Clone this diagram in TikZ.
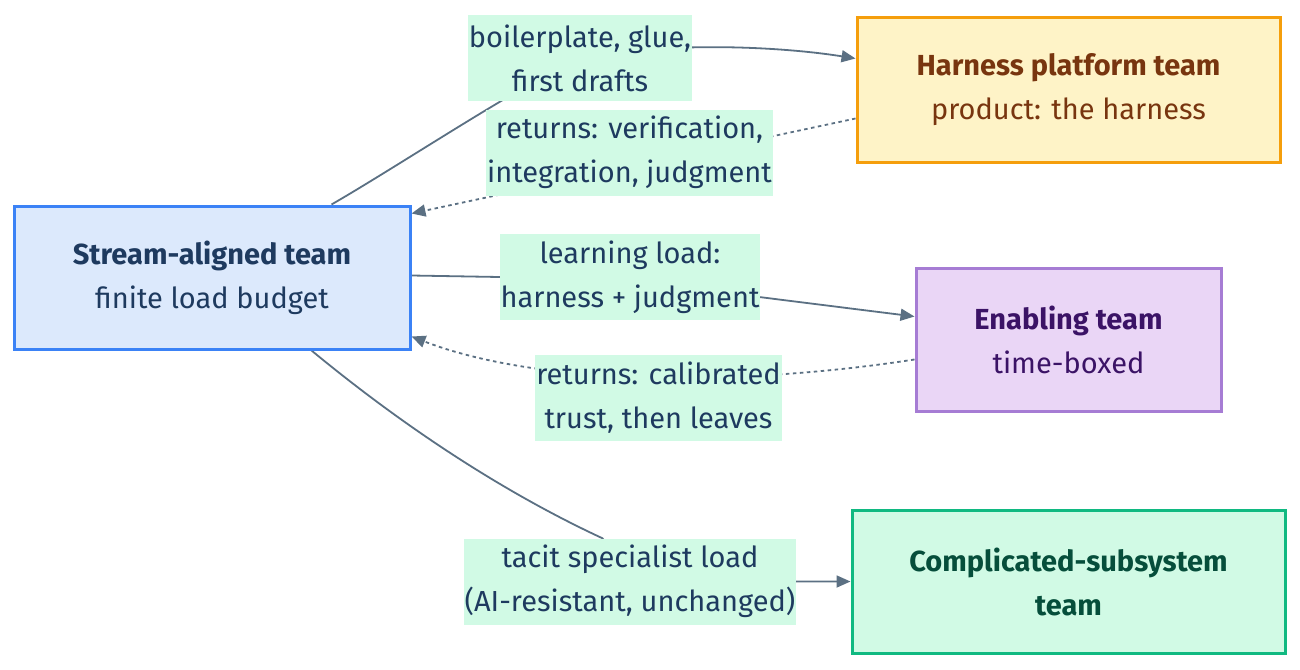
\documentclass[tikz,border=0pt]{standalone}
\usepackage{fontspec}
\setmainfont{Fira Sans}
\usetikzlibrary{arrows.meta,calc}
\definecolor{edgec}{HTML}{5B7083}
\definecolor{sfill}{HTML}{DCE9FC}
\definecolor{sdraw}{HTML}{3B82F6}
\definecolor{stext}{HTML}{1E3A5F}
\definecolor{hfill}{HTML}{FEF3C7}
\definecolor{hdraw}{HTML}{F59E0B}
\definecolor{htext}{HTML}{78350F}
\definecolor{efill}{HTML}{EAD6F6}
\definecolor{edraw}{HTML}{A67CD4}
\definecolor{etext}{HTML}{3B1366}
\definecolor{cfill}{HTML}{D1FAE5}
\definecolor{cdraw}{HTML}{10B981}
\definecolor{ctext}{HTML}{064E3B}
\definecolor{lfill}{HTML}{D1FAE5}
\definecolor{ltext}{HTML}{1E3A5F}
\pgfdeclarelayer{bg}
\pgfsetlayers{bg,main}
\tikzset{
  teambox/.style={rectangle, line width=3pt, align=center, inner sep=0pt,
    font=\fontsize{29}{44}\selectfont},
  elabel/.style={rectangle, fill=lfill, text=ltext, align=center, inner xsep=1pt, inner ysep=0pt,
    minimum height=86pt, font=\fontsize{29}{44}\selectfont},
  edge/.style={draw=edgec, line width=1.8pt, -{Triangle[length=14pt,width=12pt]}},
  dotedge/.style={edge, dash pattern=on 3.5pt off 3.5pt}
}
\begin{document}
\begin{tikzpicture}[x=1pt,y=-1pt]
\useasboundingbox (0,0) rectangle (1300,669);

\node[teambox, fill=sfill, draw=sdraw, text=stext, minimum width=396pt, minimum height=143pt] (s) at (212,277.5)
  {\textbf{Stream-aligned team}\\finite load budget};
\node[teambox, fill=hfill, draw=hdraw, text=htext, minimum width=423pt, minimum height=144pt] (h) at (1068.5,90)
  {\textbf{Harness platform team}\\product: the harness};
\node[teambox, fill=efill, draw=edraw, text=etext, minimum width=305pt, minimum height=143pt] (en) at (1068.5,339.5)
  {\textbf{Enabling team}\\time-boxed};
\node[teambox, fill=cfill, draw=cdraw, text=ctext, minimum width=433pt, minimum height=143pt] (c) at (1068.5,581.5)
  {\textbf{Complicated-subsystem}\\\textbf{team}};

\node[elabel] (l1) at (580,58) {boilerplate, glue,\\first drafts};
\node[elabel] (l2) at (629.5,152.5) {returns: verification,\\integration, judgment};
\node[elabel] (l3) at (630,277) {learning load:\\harness + judgment};
\node[elabel] (l4) at (658.5,397.5) {returns: calibrated\\trust, then leaves};
\node[elabel] (l5) at (630,581.5) {tacit specialist load\\(AI-resistant, unchanged)};

\coordinate (e1s) at ($(s.north west)+(319,0)$);
\coordinate (e1t) at ($(h.north west)+(0,42)$);
\coordinate (e2s) at ($(h.north west)+(0,102)$);
\coordinate (e2t) at ($(s.north east)+(0,9)$);
\coordinate (e3s) at ($(s.north east)+(0,71)$);
\coordinate (e3x) at ($(l3.south east)+(0,-23)$);
\coordinate (e3t) at ($(en.north west)+(0,50)$);
\coordinate (e4s) at ($(en.north west)+(0,93)$);
\coordinate (e4t) at ($(s.north east)+(0,132)$);
\coordinate (e5s) at ($(s.south west)+(299,0)$);
\coordinate (e5x) at ($(l5.north west)+(139,0)$);

\begin{pgfonlayer}{bg}
\draw[edge] (e1s) .. controls (400,165) and (520,85) .. (l1.center)
  .. controls (680,40) and (790,48) .. (e1t);
\draw[dotedge] (e2s) -- (e2t);
\draw[edge] (e3s) -- (l3.west) -- (e3x) -- (e3t);
\draw[dotedge] (e4s) .. controls (750,385) and (545,388) .. (e4t);
\draw[edge] (e5s) .. controls (420,440) and (520,500) .. (e5x) -- (l5.center) -- (c.west);
\end{pgfonlayer}
\end{tikzpicture}
\end{document}
